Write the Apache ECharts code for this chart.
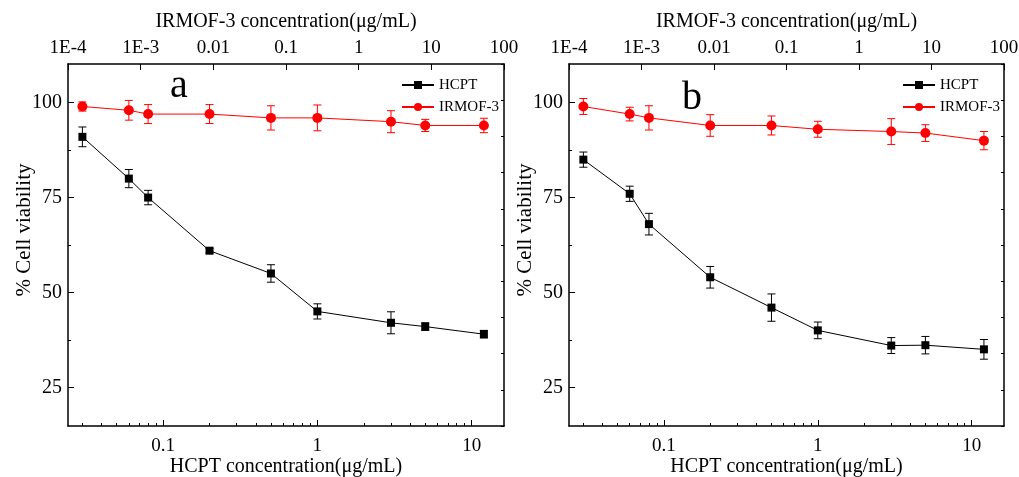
<!DOCTYPE html>
<html>
<head>
<meta charset="utf-8">
<script src="https://cdn.jsdelivr.net/npm/echarts@6/dist/echarts.min.js"></script>
<style>
  html, body { margin: 0; padding: 0; background: #fff; }
  #chart { width: 1019px; height: 477px; }
</style>
</head>
<body>
<div id="chart"></div>
<script>
// HCPT concentrations (µg/mL) tested in both panels
const hcptConc = [0.03, 0.06, 0.08, 0.2, 0.5, 1, 3, 5, 12];

// Panel a: % cell viability (mean) and error (±)
const aHcpt = [91, 80, 75, 61, 55, 45, 42, 41, 39];
const aHcptErr = [2.6, 2.4, 1.9, 0.6, 2.3, 2.0, 2.9, 1.0, 1.0];
const aIrmof = [99, 98, 97, 97, 96, 96, 95, 94, 94];
const aIrmofErr = [1.2, 2.6, 2.5, 2.5, 3.2, 3.4, 2.9, 1.6, 1.9];

// Panel b
const bHcpt = [85, 76, 68, 54, 46, 40, 36, 36.1, 35];
const bHcptErr = [2.0, 2.0, 2.85, 2.85, 3.6, 2.2, 2.1, 2.3, 2.6];
const bIrmof = [99, 97, 96, 94, 94, 93, 92.4, 92, 90];
const bIrmofErr = [2.1, 1.8, 3.2, 2.85, 2.5, 2.1, 3.4, 2.2, 2.4];

// Axis ticks and labels
const hcptTickValues = [0.1, 1, 10];
const hcptTickLabels = ['0.1', '1', '10'];
const hcptMinorTicks = [0.03, 0.04, 0.05, 0.06, 0.07, 0.08, 0.09,
  0.2, 0.3, 0.4, 0.5, 0.6, 0.7, 0.8, 0.9,
  2, 3, 4, 5, 6, 7, 8, 9];
const irmofTickValues = [1e-4, 1e-3, 0.01, 0.1, 1, 10, 100];
const irmofTickLabels = ['1E-4', '1E-3', '0.01', '0.1', '1', '10', '100'];
const viabilityTicks = [25, 50, 75, 100];
const viabilityMinorTicks = [37.5, 62.5, 87.5];
const panelLetters = ['a', 'b'];

const FONT = '"Liberation Serif", "Times New Roman", serif';
const RED = '#ff0000';
const BLACK = '#000000';

const lg = v => Math.log10(v);
const xMin = lg(0.0242), xMax = lg(16.2);
const yMin = 14.8, yMax = 110.2;

const gridBoxes = [
  { left: 68, top: 64, width: 436, height: 362 },
  { left: 569, top: 64, width: 435, height: 362 }
];

const panels = [
  { hcpt: aHcpt, hcptErr: aHcptErr, irmof: aIrmof, irmofErr: aIrmofErr },
  { hcpt: bHcpt, hcptErr: bHcptErr, irmof: bIrmof, irmofErr: bIrmofErr }
];

function lookupLabel(values, labels, v) {
  for (let i = 0; i < values.length; i++) {
    if (Math.abs(lg(values[i]) - v) < 1e-6) return labels[i];
  }
  return '';
}

const frameLine = { show: true, onZero: false, lineStyle: { color: BLACK, width: 1.5 } };
const noLine = { show: false, onZero: false };

const grid = [], xAxis = [], yAxis = [], series = [], legend = [], graphic = [];

panels.forEach((p, i) => {
  grid.push(Object.assign({ containLabel: false, outerBoundsMode: 'none' }, gridBoxes[i]));
  const xBase = xAxis.length, yBase = yAxis.length;

  // bottom: HCPT concentration (log scale, major ticks + labels)
  xAxis.push({
    type: 'value', gridIndex: i, position: 'bottom', min: xMin, max: xMax,
    name: 'HCPT concentration(μg/mL)', nameLocation: 'middle', nameGap: 31, nameMoveOverlap: false,
    nameTextStyle: { fontFamily: FONT, fontSize: 20, color: BLACK },
    axisLine: frameLine, splitLine: { show: false },
    axisTick: { inside: true, length: 6, customValues: hcptTickValues.map(lg), lineStyle: { color: BLACK, width: 1 } },
    axisLabel: { customValues: hcptTickValues.map(lg), margin: 11, fontFamily: FONT, fontSize: 19, color: BLACK,
      formatter: v => lookupLabel(hcptTickValues, hcptTickLabels, v) }
  });
  // bottom: log minor ticks
  xAxis.push({
    type: 'value', gridIndex: i, position: 'bottom', min: xMin, max: xMax,
    axisLine: noLine, splitLine: { show: false }, axisLabel: { show: false },
    axisTick: { inside: true, length: 3, customValues: hcptMinorTicks.map(lg), lineStyle: { color: BLACK, width: 1 } }
  });
  // top: IRMOF-3 concentration (log scale)
  xAxis.push({
    type: 'value', gridIndex: i, position: 'top', min: -4, max: 2,
    name: 'IRMOF-3 concentration(μg/mL)', nameLocation: 'middle', nameGap: 32, nameMoveOverlap: false,
    nameTextStyle: { fontFamily: FONT, fontSize: 20, color: BLACK },
    axisLine: frameLine, splitLine: { show: false },
    axisTick: { inside: true, length: 6, customValues: irmofTickValues.map(lg), lineStyle: { color: BLACK, width: 1 } },
    axisLabel: { customValues: irmofTickValues.map(lg), margin: 6, fontFamily: FONT, fontSize: 19, color: BLACK,
      formatter: v => lookupLabel(irmofTickValues, irmofTickLabels, v) }
  });

  // left: % cell viability
  yAxis.push({
    type: 'value', gridIndex: i, position: 'left', min: yMin, max: yMax,
    name: '% Cell viability', nameLocation: 'middle', nameGap: 33, nameMoveOverlap: false,
    nameTextStyle: { fontFamily: FONT, fontSize: 21, color: BLACK, padding: [0, 0, 0, 30] },
    axisLine: frameLine, splitLine: { show: false },
    axisTick: { inside: true, length: 6, customValues: viabilityTicks, lineStyle: { color: BLACK, width: 1 } },
    axisLabel: { customValues: viabilityTicks, margin: 6, fontFamily: FONT, fontSize: 20, color: BLACK }
  });
  // left: minor ticks
  yAxis.push({
    type: 'value', gridIndex: i, position: 'left', min: yMin, max: yMax,
    axisLine: noLine, splitLine: { show: false }, axisLabel: { show: false },
    axisTick: { inside: true, length: 3, customValues: viabilityMinorTicks, lineStyle: { color: BLACK, width: 1 } }
  });
  // right: frame axis with its own tick spacing
  yAxis.push({
    type: 'value', gridIndex: i, position: 'right', min: 0, max: 100, interval: 10,
    axisLine: frameLine, splitLine: { show: false }, axisLabel: { show: false },
    axisTick: { inside: true, length: 3, lineStyle: { color: BLACK, width: 1 } }
  });

  const mk = (vals) => hcptConc.map((c, k) => [lg(c), vals[k]]);
  const mkErr = (vals, errs) => hcptConc.map((c, k) => [lg(c), vals[k], errs[k]]);

  const errorBars = (name, vals, errs, color) => ({
    type: 'custom', name: name + ' error', xAxisIndex: xBase, yAxisIndex: yBase,
    silent: true, z: 1, clip: false,
    data: mkErr(vals, errs),
    encode: { x: 0, y: 1 },
    renderItem: (params, api) => {
      const x = api.value(0), y = api.value(1), e = api.value(2);
      const hi = api.coord([x, y + e]);
      const lo = api.coord([x, y - e]);
      const hw = 4;
      const st = { stroke: color, lineWidth: 1 };
      return {
        type: 'group',
        children: [
          { type: 'line', shape: { x1: hi[0], y1: hi[1], x2: lo[0], y2: lo[1] }, style: st },
          { type: 'line', shape: { x1: hi[0] - hw, y1: hi[1], x2: hi[0] + hw, y2: hi[1] }, style: st },
          { type: 'line', shape: { x1: lo[0] - hw, y1: lo[1], x2: lo[0] + hw, y2: lo[1] }, style: st }
        ]
      };
    }
  });

  series.push(errorBars('HCPT', p.hcpt, p.hcptErr, BLACK));
  series.push(errorBars('IRMOF-3', p.irmof, p.irmofErr, RED));
  series.push({
    type: 'line', name: 'HCPT', xAxisIndex: xBase, yAxisIndex: yBase, z: 3,
    data: mk(p.hcpt), symbol: 'rect', symbolSize: 8, showAllSymbol: true,
    itemStyle: { color: BLACK }, lineStyle: { color: BLACK, width: 1 }, animation: false
  });
  series.push({
    type: 'line', name: 'IRMOF-3', xAxisIndex: xBase, yAxisIndex: yBase, z: 3,
    data: mk(p.irmof), symbol: 'circle', symbolSize: 10, showAllSymbol: true,
    itemStyle: { color: RED }, lineStyle: { color: RED, width: 1 }, animation: false
  });

  legend.push({
    data: ['HCPT', 'IRMOF-3'], orient: 'vertical',
    left: gridBoxes[i].left + 328, top: 72,
    itemWidth: 32, itemHeight: 10, itemGap: 6,
    textStyle: { fontFamily: FONT, fontSize: 15, lineHeight: 16, color: BLACK },
    selectedMode: false
  });

  graphic.push({
    type: 'text', left: i === 0 ? 170 : 682, top: i === 0 ? 66 : 78,
    style: { text: panelLetters[i], font: '40px ' + FONT, fill: BLACK }
  });
});

const chart = echarts.init(document.getElementById('chart'), null, { renderer: 'canvas' });
chart.setOption({
  animation: false,
  backgroundColor: '#fff',
  grid, xAxis, yAxis, series, legend, graphic
});
</script>
</body>
</html>
